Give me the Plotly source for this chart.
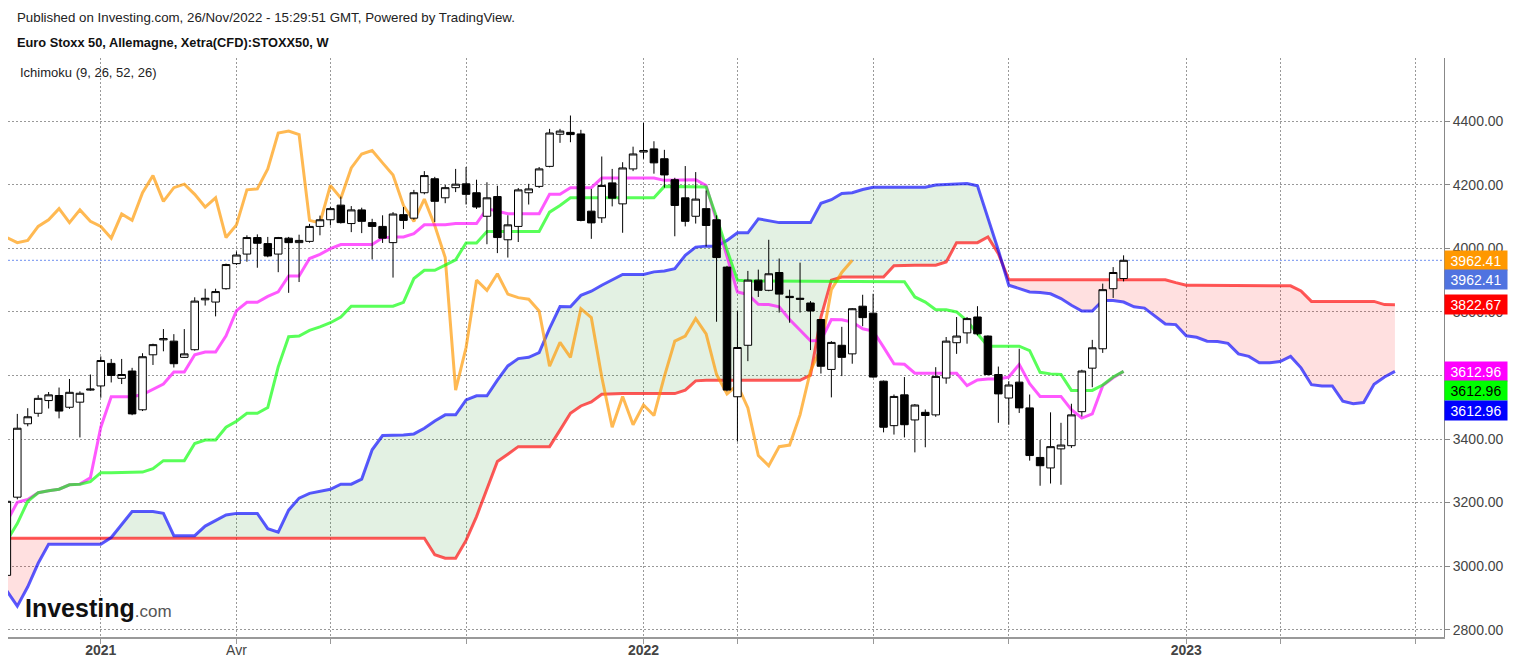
import pandas as pd
import plotly.graph_objects as go

# weekly bars, first one = week of 2 Nov 2020 (cut by the left edge)
weeks = pd.date_range("2020-11-02", periods=136, freq="7D")

open_ = [2971, 3217, 3448, 3481, 3521, 3537, 3500, 3516, 3554, 3567, 3638,
         3591, 3614, 3492, 3665, 3712, 3708, 3657, 3681, 3838, 3831,
         3873, 3952, 3982, 4034, 4015, 3982, 4032, 4018, 4022, 4069,
         4090, 4136, 4078, 4121, 4081, 4069, 4018, 4106, 4095, 4175,
         4219, 4159, 4191, 4203, 4175, 4101, 4163, 4027, 4069, 4175,
         4195, 4258, 4359, 4365, 4360, 4117, 4096, 4206, 4140, 4250,
         4303, 4313, 4282, 4216, 4159, 4101, 4125, 4090, 3941, 3533,
         3695, 3900, 3868, 3924, 3849, 3843, 3828, 3776, 3619, 3695,
         3668, 3818, 3796, 3582, 3442, 3539, 3460, 3484, 3476, 3592,
         3703, 3734, 3784, 3724, 3603, 3529, 3579, 3498, 3342, 3309,
         3369, 3379, 3486, 3623, 3684, 3873, 3905]
high = [3212, 3479, 3497, 3538, 3548, 3562, 3589, 3550, 3603, 3660, 3652,
        3652, 3624, 3670, 3700, 3746, 3730, 3746, 3846, 3873, 3873,
        3952, 3990, 4041, 4044, 4036, 4036, 4036, 4043, 4077, 4103,
        4130, 4163, 4133, 4128, 4093, 4104, 4114, 4130, 4184, 4243,
        4225, 4200, 4250, 4256, 4216, 4208, 4197, 4104, 4190, 4203,
        4256, 4376, 4376, 4418, 4373, 4187, 4289, 4250, 4271, 4320,
        4395, 4337, 4310, 4222, 4259, 4240, 4182, 4104, 3945, 3803,
        3929, 3933, 4027, 3968, 3870, 3955, 3834, 3778, 3708, 3753,
        3812, 3854, 3857, 3584, 3540, 3595, 3510, 3493, 3626, 3721,
        3784, 3784, 3818, 3726, 3628, 3582, 3684, 3540, 3397, 3484,
        3451, 3511, 3618, 3712, 3889, 3941, 3978]
low = [2960, 3210, 3440, 3470, 3496, 3465, 3495, 3405, 3552, 3530, 3578,
       3573, 3475, 3488, 3633, 3676, 3625, 3655, 3678, 3820, 3786,
       3870, 3948, 3958, 3939, 3972, 3925, 3860, 3894, 4018, 4041,
       4072, 4078, 4051, 4048, 3965, 4017, 3908, 4061, 4090, 4170,
       4083, 4142, 4177, 4138, 4124, 4013, 3985, 3971, 4020, 4138,
       4190, 4255, 4332, 4334, 4085, 4030, 4080, 4132, 4049, 4243,
       4282, 4235, 4191, 4038, 4069, 4078, 4006, 3769, 3550, 3392,
       3645, 3847, 3865, 3798, 3766, 3798, 3680, 3606, 3531, 3598,
       3637, 3755, 3593, 3421, 3414, 3405, 3358, 3374, 3470, 3574,
       3668, 3700, 3726, 3600, 3451, 3445, 3482, 3332, 3253, 3260,
       3256, 3372, 3471, 3563, 3671, 3844, 3896]
close = [3204, 3434, 3470, 3528, 3539, 3488, 3547, 3544, 3557, 3647, 3600,
         3603, 3479, 3659, 3697, 3716, 3637, 3668, 3834, 3843, 3864,
         3949, 3979, 4034, 4016, 3976, 4034, 4018, 4025, 4069, 4090,
         4125, 4081, 4121, 4085, 4069, 4032, 4108, 4088, 4175, 4229,
         4148, 4191, 4202, 4170, 4130, 4159, 4034, 4074, 4184, 4187,
         4250, 4363, 4369, 4358, 4088, 4080, 4198, 4158, 4253, 4297,
         4308, 4269, 4231, 4135, 4085, 4155, 4072, 3971, 3554, 3688,
         3900, 3868, 3920, 3856, 3845, 3840, 3803, 3629, 3704, 3657,
         3810, 3782, 3595, 3437, 3534, 3445, 3507, 3474, 3597, 3708,
         3724, 3779, 3731, 3603, 3542, 3570, 3498, 3348, 3316, 3376,
         3381, 3476, 3614, 3687, 3870, 3924, 3962.41]

# ichimoku lines
tenkan = [3140, 3201, 3210, 3231, 3237, 3242, 3256, 3258, 3278, 3437, 3533,
          3533, 3533, 3540, 3557, 3573, 3611, 3611, 3665, 3674, 3674,
          3725, 3804, 3830, 3830, 3849, 3863, 3913, 3913, 3968, 3981,
          3999, 4012, 4012, 4012, 4012, 4033, 4036, 4036, 4046, 4074,
          4074, 4074, 4078, 4078, 4078, 4125, 4116, 4109, 4109, 4109,
          4109, 4170, 4170, 4191, 4191, 4191, 4221, 4221, 4221, 4221,
          4221, 4221, 4214, 4214, 4216, 4216, 4198, 4088, 3973, 3863,
          3855, 3824, 3823, 3816, 3776, 3743, 3709, 3710, 3776, 3775,
          3768, 3747, 3740, 3689, 3637, 3635, 3607, 3607, 3607, 3607,
          3607, 3568, 3586, 3589, 3589, 3595, 3635, 3574, 3534, 3534,
          3534, 3492, 3466, 3479, 3568, 3593, 3612.96]
kijun = [3080, 3134, 3204, 3231, 3237, 3242, 3256, 3258, 3266, 3294, 3294,
         3294, 3294, 3296, 3307, 3332, 3332, 3332, 3386, 3397, 3397,
         3437, 3456, 3481, 3481, 3499, 3627, 3722, 3724, 3742, 3753,
         3766, 3784, 3818, 3818, 3818, 3818, 3818, 3830, 3905, 3931,
         3931, 3947, 3964, 4017, 4017, 4053, 4053, 4053, 4053, 4053,
         4053, 4114, 4135, 4159, 4159, 4159, 4159, 4159, 4159, 4159,
         4159, 4159, 4195, 4195, 4195, 4195, 4193, 4098, 3995, 3900,
         3897, 3897, 3897, 3897, 3897, 3897, 3897, 3897, 3897, 3897,
         3897, 3897, 3897, 3897, 3897, 3895, 3847, 3831, 3807, 3807,
         3800, 3772, 3731, 3692, 3692, 3692, 3692, 3678, 3610, 3605,
         3603, 3553, 3553, 3553, 3570, 3595, 3612.96]
span_a = [2922, 2874, 2935, 3009, 3069, 3069, 3069, 3069, 3069, 3069, 3090,
          3131, 3172, 3172, 3172, 3166, 3096, 3096, 3096, 3126, 3143,
          3161, 3166, 3166, 3166, 3118, 3107, 3176, 3214, 3229, 3235,
          3242, 3258, 3258, 3274, 3366, 3411, 3411, 3413, 3416, 3434,
          3457, 3476, 3476, 3523, 3536, 3536, 3585, 3630, 3653, 3657,
          3672, 3748, 3817, 3816, 3852, 3865, 3884, 3900, 3918, 3918,
          3918, 3926, 3929, 3936, 3978, 4004, 4007, 4007, 4025, 4049,
          4049, 4093, 4086, 4081, 4081, 4081, 4081, 4142, 4153, 4173,
          4175, 4185, 4192, 4192, 4192, 4192, 4192, 4192, 4199, 4201,
          4202, 4204, 4197, 4099, 3994, 3884, 3873, 3863, 3861, 3857,
          3842, 3821, 3803, 3803, 3836, 3836, 3831, 3816, 3812, 3788,
          3762, 3760, 3725, 3720, 3708, 3707, 3701, 3668, 3660, 3640,
          3640, 3644, 3660, 3624, 3571, 3567, 3567, 3519, 3511, 3515,
          3572, 3595, 3612.96]
span_b = [3088, 3088, 3088, 3088, 3088, 3088, 3088, 3088, 3088, 3088, 3088,
          3088, 3088, 3088, 3088, 3088, 3088, 3088, 3088, 3088, 3088,
          3088, 3088, 3088, 3088, 3088, 3088, 3088, 3088, 3088, 3088,
          3088, 3088, 3088, 3088, 3088, 3088, 3088, 3088, 3088, 3088,
          3036, 3025, 3025, 3081, 3156, 3245, 3329, 3352, 3376, 3376,
          3376, 3376, 3428, 3481, 3504, 3517, 3541, 3543, 3543, 3543,
          3543, 3543, 3543, 3543, 3554, 3583, 3585, 3585, 3585, 3585,
          3585, 3585, 3585, 3585, 3585, 3585, 3601, 3784, 3900, 3910,
          3910, 3910, 3910, 3910, 3945, 3947, 3947, 3947, 3947, 3957,
          4018, 4018, 4018, 4036, 3983, 3901, 3901, 3901, 3901, 3901,
          3901, 3901, 3901, 3901, 3901, 3901, 3901, 3901, 3901, 3901,
          3901, 3892, 3884, 3884, 3884, 3884, 3884, 3884, 3884, 3884,
          3884, 3884, 3882, 3866, 3833, 3833, 3833, 3833, 3833, 3833,
          3833, 3823, 3822.67]

x_bars = weeks[:len(close)]
x_cloud = weeks[:len(span_a)]
x_lag = weeks[:len(close) - 26]
upper = [max(a, b) for a, b in zip(span_a, span_b)]

FONT = "Liberation Sans, Arial, sans-serif"

fig = go.Figure()

# cloud: green where span A is above span B, pink otherwise
fig.add_trace(go.Scatter(x=x_cloud, y=span_b, mode="lines", line=dict(width=0), hoverinfo="skip"))
fig.add_trace(go.Scatter(x=x_cloud, y=upper, mode="lines", line=dict(width=0), fill="tonexty",
                         fillcolor="rgba(0,128,0,0.11)", hoverinfo="skip"))
fig.add_trace(go.Scatter(x=x_cloud, y=span_a, mode="lines", line=dict(width=0), hoverinfo="skip"))
fig.add_trace(go.Scatter(x=x_cloud, y=upper, mode="lines", line=dict(width=0), fill="tonexty",
                         fillcolor="rgba(255,0,0,0.12)", hoverinfo="skip"))

fig.add_trace(go.Scatter(x=x_cloud, y=span_b, mode="lines", line=dict(color="rgba(255,0,0,0.65)", width=3)))
fig.add_trace(go.Scatter(x=x_cloud, y=span_a, mode="lines", line=dict(color="rgba(0,0,255,0.65)", width=3)))
fig.add_trace(go.Scatter(x=x_lag, y=close[26:], mode="lines", line=dict(color="rgba(255,152,0,0.68)", width=3)))
fig.add_trace(go.Scatter(x=x_bars, y=tenkan, mode="lines", line=dict(color="rgba(255,0,255,0.65)", width=3)))
fig.add_trace(go.Scatter(x=x_bars, y=kijun, mode="lines", line=dict(color="rgba(0,255,0,0.65)", width=3)))

# candles on an overlaid pair of axes so they sit above the lines
fig.add_trace(go.Candlestick(
    x=x_bars, open=open_, high=high, low=low, close=close,
    xaxis="x2", yaxis="y2", whiskerwidth=0,
    increasing=dict(line=dict(color="black", width=1), fillcolor="white"),
    decreasing=dict(line=dict(color="black", width=1), fillcolor="black"),
))

x_lo = weeks[0] + pd.Timedelta(days=7 * 0.109)
x_hi = weeks[0] + pd.Timedelta(days=7 * 137.7)
y_rng = [2777, 4599]

tick_weeks = [8, 21, 30, 43, 60, 69, 82, 95, 112, 121, 134]
tick_text = ["<b>2021</b>", "Avr", "", "", "<b>2022</b>", "", "", "", "<b>2023</b>", "", ""]

fig.update_layout(
    width=1513, height=665,
    margin=dict(l=8, r=69, t=58, b=28),
    paper_bgcolor="white", plot_bgcolor="white",
    showlegend=False,
    boxgap=0.28, boxgroupgap=0,
    font=dict(family=FONT, color="#333", size=12),
    xaxis=dict(
        type="date", range=[x_lo, x_hi], automargin=False,
        tickmode="array", tickvals=[weeks[i + 1] for i in tick_weeks], ticktext=tick_text,
        showgrid=True, gridcolor="#999", griddash="2px,2px", gridwidth=1,
        showline=True, linecolor="#999", linewidth=2,
        ticks="outside", ticklen=5, tickcolor="#999", ticklabelstandoff=-6,
        tickfont=dict(size=14, color="#444"),
        zeroline=False, rangeslider=dict(visible=False),
    ),
    yaxis=dict(
        side="right", range=y_rng, automargin=False,
        tickmode="array", tickvals=list(range(2800, 4600, 200)), tickformat=".2f",
        showgrid=True, gridcolor="#999", griddash="2px,2px", gridwidth=1,
        showline=True, linecolor="#888", linewidth=1,
        ticks="outside", ticklen=5, tickcolor="#888",
        tickfont=dict(size=14, color="#444"),
        zeroline=False,
    ),
    xaxis2=dict(type="date", range=[x_lo, x_hi], overlaying="x", anchor="y2",
                visible=False, rangeslider=dict(visible=False)),
    yaxis2=dict(range=y_rng, overlaying="y", anchor="x2", visible=False),
    shapes=[dict(type="line", xref="paper", x0=0, x1=1, yref="y", y0=close[-1], y1=close[-1],
                 line=dict(color="#6f8fef", width=1, dash="2px,2px"), layer="below")],
)


def px_x(px):
    return (px - 8) / 1436


def px_y(py):
    return (637 - py) / 579


fig.add_annotation(x=px_x(15), y=px_y(17), xref="paper", yref="paper", xanchor="left", yanchor="middle",
                   showarrow=False, text="Published on Investing.com, 26/Nov/2022 - 15:29:51 GMT, Powered by TradingView.",
                   font=dict(size=13.3, color="#222"))
fig.add_annotation(x=px_x(15), y=px_y(42), xref="paper", yref="paper", xanchor="left", yanchor="middle",
                   showarrow=False, text="<b>Euro Stoxx 50, Allemagne, Xetra(CFD):STOXX50, W</b>",
                   font=dict(size=12.8, color="#111"))
fig.add_annotation(x=px_x(18), y=px_y(73), xref="paper", yref="paper", xanchor="left", yanchor="middle",
                   showarrow=False, text="Ichimoku (9, 26, 52, 26)", font=dict(size=13, color="#222"))
fig.add_annotation(x=px_x(23), y=px_y(608), xref="paper", yref="paper", xanchor="left", yanchor="middle",
                   showarrow=False,
                   text="<b>Investing</b><span style='font-size:17px;color:#555'>.com</span>",
                   font=dict(size=25, color="#111"))

# value boxes on the price scale
labels = [
    (close[-1], 0, "#ff9800", "white"),
    (close[-1], -19.5, "#5073e0", "white"),
    (span_b[-1], 0, "#ff0000", "white"),
    (tenkan[-1], 0, "#ff00ff", "white"),
    (kijun[-1], -19.5, "#00ff00", "black"),
    (span_a[-1], -39, "#0000ff", "white"),
]
for val, shift, bg, fg in labels:
    fig.add_annotation(x=1, xref="paper", y=val, yref="y", xanchor="left", yanchor="middle",
                       yshift=shift, showarrow=False, text=f"{val:.2f}",
                       bgcolor=bg, font=dict(size=14, color=fg), width=58, height=15, borderpad=2)

# the page body has a default 8px margin; drop it so the figure sits at the corner
fig.write_html("out.html", config={"displayModeBar": False},
               post_script="document.body.style.margin = '0';")
